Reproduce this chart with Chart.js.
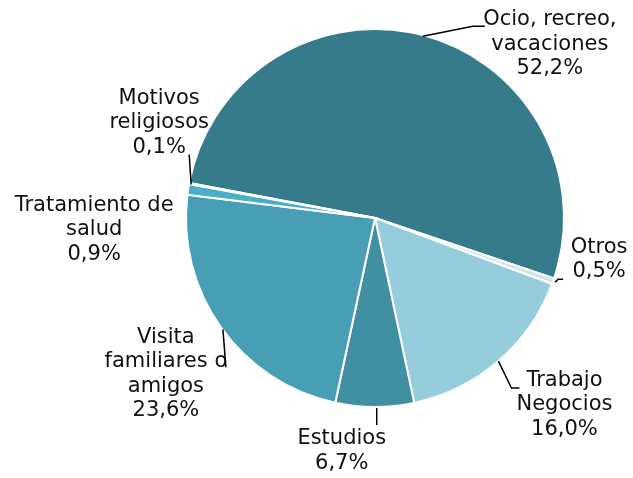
<!DOCTYPE html>
<html>
<head>
<meta charset="utf-8">
<script src="https://cdn.jsdelivr.net/npm/chart.js@4"></script>
<style>
  html, body { margin: 0; padding: 0; background: #fff; }
  #wrap { width: 633px; height: 478px; }
</style>
</head>
<body>
<div id="wrap"><canvas id="pie"></canvas></div>
<script>
// datos
const categories = ['Ocio, recreo, vacaciones', 'Otros', 'Trabajo Negocios', 'Estudios',
  'Visita familiares o amigos', 'Tratamiento de salud', 'Motivos religiosos'];
const values = [52.2, 0.5, 16.0, 6.7, 23.6, 0.9, 0.1];
const labelLines = [
  ['Ocio, recreo,', 'vacaciones'],
  ['Otros'],
  ['Trabajo', 'Negocios'],
  ['Estudios'],
  ['Visita', 'familiares o', 'amigos'],
  ['Tratamiento de', 'salud'],
  ['Motivos', 'religiosos']
];
const colors = ['#367b8c', '#d3e3e9', '#95cddd', '#418fa3', '#489fb5', '#4aaec6', '#2f6f80'];

// posicion de etiquetas: desplazamiento desde el borde del sector
const textOffset = [[127, -15.5], [46, -34], [66, 19], [-33, 32], [-55, 10], [-94, 16], [-30, -85]];
// lineas guia (puntos relativos al borde)
const leaderPath = [
  [[0, 1], [50, -9], [62, -9]],
  [[2, 1], [5, -2], [10, -2]],
  [[0, 0], [13, 27], [21, 27]],
  [[2, 1], [2, 18]],
  [[2, 2], [5, 40]],
  [],
  [[2, 1], [0, -29]]
];

const fmt = v => v.toFixed(1).replace('.', ',') + '%';

const labelPlugin = {
  id: 'outLabels',
  afterDraw(chart) {
    const ctx = chart.ctx;
    const meta = chart.getDatasetMeta(0);
    ctx.save();
    meta.data.forEach((arc, i) => {
      const p = arc.getProps(['x', 'y', 'startAngle', 'endAngle', 'outerRadius'], true);
      const mid = (p.startAngle + p.endAngle) / 2;
      const ex = p.x + Math.cos(mid) * p.outerRadius;
      const ey = p.y + Math.sin(mid) * p.outerRadius;

      // linea guia
      const path = leaderPath[i];
      if (path.length) {
        ctx.beginPath();
        ctx.strokeStyle = '#000';
        ctx.lineWidth = 1.5;
        path.forEach((pt, k) => {
          if (k === 0) ctx.moveTo(ex + pt[0], ey + pt[1]);
          else ctx.lineTo(ex + pt[0], ey + pt[1]);
        });
        ctx.stroke();
      }

      // texto
      const lines = labelLines[i].concat([fmt(values[i])]);
      const tx = ex + textOffset[i][0];
      const ty = ey + textOffset[i][1];
      ctx.fillStyle = '#111';
      ctx.font = '21px "DejaVu Sans"';
      ctx.textAlign = 'center';
      ctx.textBaseline = 'middle';
      lines.forEach((s, k) => ctx.fillText(s, tx, ty + k * 24.5));
    });
    ctx.restore();
  }
};

new Chart(document.getElementById('pie'), {
  type: 'pie',
  data: {
    labels: categories,
    datasets: [{
      data: values,
      backgroundColor: colors,
      borderColor: '#fff',
      borderWidth: 2,
      hoverOffset: 0
    }]
  },
  options: {
    responsive: true,
    maintainAspectRatio: false,
    animation: false,
    rotation: -79.3,
    layout: { padding: { left: 185, right: 68, top: 28, bottom: 70 } },
    plugins: {
      legend: { display: false },
      tooltip: { enabled: false }
    }
  },
  plugins: [labelPlugin]
});
</script>
</body>
</html>
